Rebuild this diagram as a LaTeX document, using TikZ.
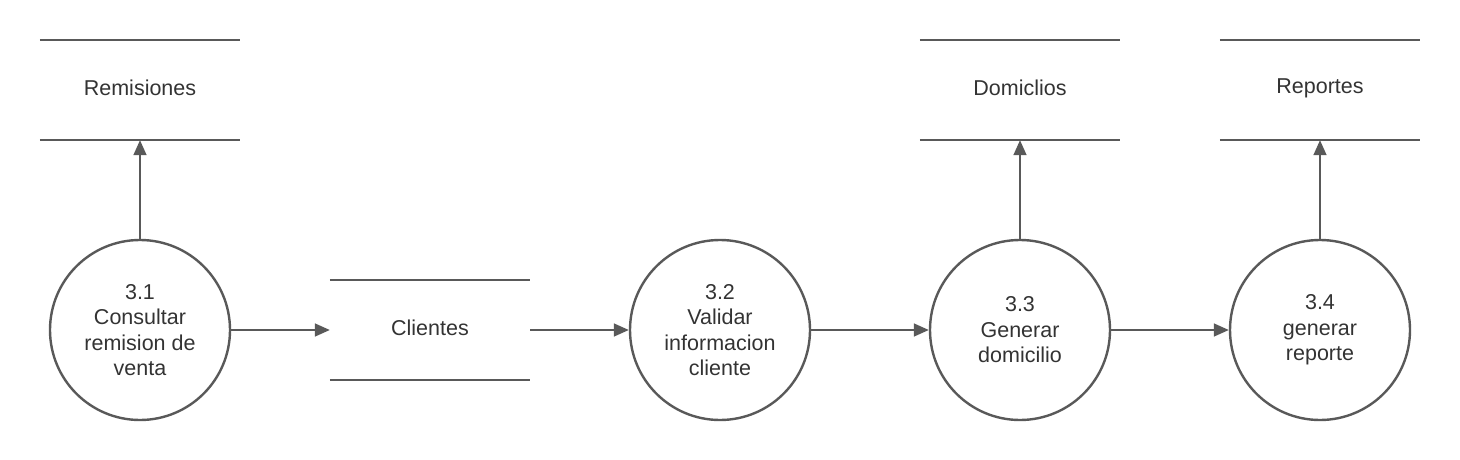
\documentclass[tikz,border=0pt]{standalone}
\usepackage{fontspec}
\setmainfont{Liberation Sans}
\usetikzlibrary{arrows.meta}
\definecolor{ln}{HTML}{595959}
\definecolor{tx}{HTML}{333333}
\tikzset{
  proc/.style={circle,draw=ln,line width=2.4pt,minimum size=180pt,inner sep=0pt,align=center,text=tx,font=\fontsize{21.5}{25.5}\selectfont},
  store/.style={minimum width=200pt,minimum height=100pt,inner sep=0pt,text=tx,font=\fontsize{21.5}{25.5}\selectfont},
  lbl/.style={inner sep=0pt,text=tx,font=\fontsize{21.5}{25.5}\selectfont},
  flow/.style={draw=ln,line width=1.6pt,-{Triangle[length=15pt,width=13pt]}},
  bar/.style={draw=ln,line width=2.4pt}
}
\newcommand{\storelines}[1]{\draw[bar] (#1.north west) -- (#1.north east); \draw[bar] (#1.south west) -- (#1.south east);}
\begin{document}
\begin{tikzpicture}[x=1pt,y=-1pt]
\useasboundingbox (0,0) rectangle (1460,460);
\node[store] (rem) at (140,90) {};
\node[store] (dom) at (1020,90) {};
\node[store] (rep) at (1320,90) {};
\node[store] (cli) at (430,330) {};
\node[lbl] (remt) at (rem.center) [yshift=2pt] {Remisiones};
\node[lbl] (domt) at (dom.center) [yshift=2pt] {Domiclios};
\node[lbl] (rept) at (rep.center) [yshift=2pt] {Reportes};
\node[lbl] (clit) at (cli.center) [yshift=2pt] {Clientes};
\storelines{rem}
\storelines{dom}
\storelines{rep}
\storelines{cli}
\node[proc] (p1) at (140,330) {3.1\\Consultar\\remision de\\venta};
\node[proc] (p2) at (720,330) {3.2\\Validar\\informacion\\cliente};
\node[proc] (p3) at (1020,330) {3.3\\Generar\\domicilio};
\node[proc] (p4) at (1320,330) {3.4\\generar\\reporte};
\draw[flow] (p1.north) -- (rem.south);
\draw[flow] (p1.east) -- (cli.west);
\draw[flow] (cli.east) -- (p2.west);
\draw[flow] (p2.east) -- (p3.west);
\draw[flow] (p3.north) -- (dom.south);
\draw[flow] (p3.east) -- (p4.west);
\draw[flow] (p4.north) -- (rep.south);
\end{tikzpicture}
\end{document}
